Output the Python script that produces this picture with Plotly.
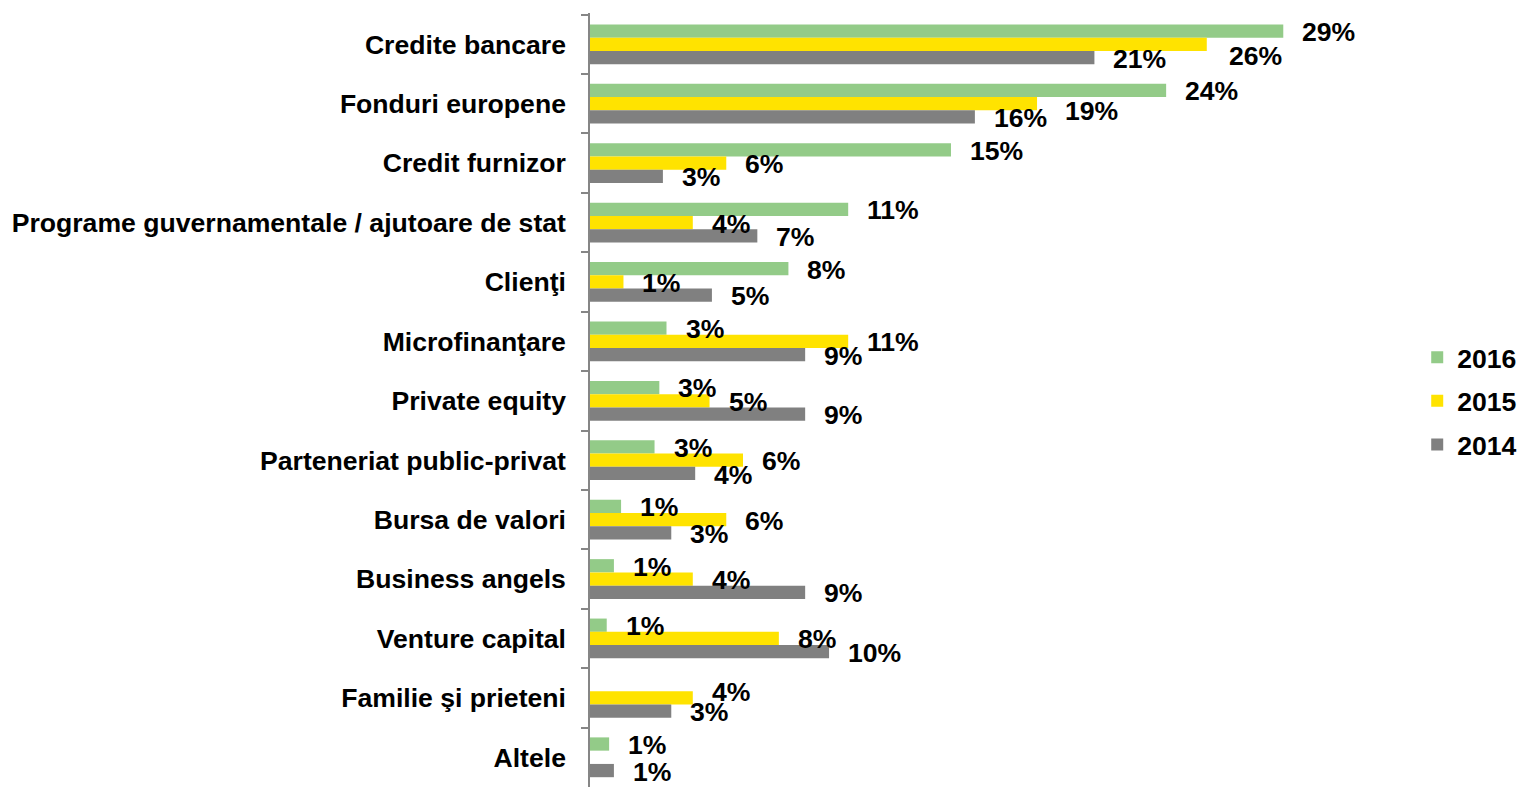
import plotly.graph_objects as go

categories = ["Credite bancare", "Fonduri europene", "Credit furnizor",
              "Programe guvernamentale / ajutoare de stat", "Clienţi", "Microfinanţare",
              "Private equity", "Parteneriat public-privat", "Bursa de valori",
              "Business angels", "Venture capital", "Familie şi prieteni", "Altele"]
series_names = ["2016", "2015", "2014"]
v2016 = [29.0, 24.1, 15.1, 10.8, 8.3, 3.2, 2.9, 2.7, 1.3, 1.0, 0.7, None, 0.8]
v2015 = [25.8, 18.7, 5.7, 4.3, 1.4, 10.8, 5.0, 6.4, 5.7, 4.3, 7.9, 4.3, None]
v2014 = [21.1, 16.1, 3.05, 7.0, 5.1, 9.0, 9.0, 4.4, 3.4, 9.0, 10.0, 3.4, 1.0]
colors = ["#93CB88", "#FFE300", "#808080"]

# label placement nudges (pixels) mimicking the original's collision avoidance
label_nudge = {
    ("2015", "Credite bancare"): (3, -11),
    ("2015", "Fonduri europene"): (9, -6),
    ("2015", "Familie şi prieteni"): (0, 7),
}

FONT = "Liberation Sans, Arial, sans-serif"
FS = 26.6
W, H = 1518, 787
L, T, B = 590, 13, 0
XMAX = 32.0
PX_PER = 23.9
plot_w = XMAX * PX_PER
R = W - L - plot_w
plot_h = H - T - B

fig = go.Figure()
all_vals = [v2016, v2015, v2014]
for name, vals, col in zip(series_names, all_vals, colors):
    fig.add_trace(go.Bar(
        y=categories, x=vals, name=name, orientation="h",
        marker=dict(color=col, line=dict(width=0)),
        legendgroup=name, hoverinfo="x+y+name",
    ))

cat_h = plot_h / len(categories)
bar_h = cat_h * (1 - 0.33) / 3
annotations = []
for i, (name, vals) in enumerate(zip(series_names, all_vals)):
    base_y = (1 - i) * bar_h - 1
    for cat, v in zip(categories, vals):
        if v is None:
            continue
        dx, dy = label_nudge.get((name, cat), (0, 0))
        annotations.append(dict(
            x=v, y=cat, xref="x", yref="y", text=f"{round(v)}%",
            showarrow=False, xanchor="left", yanchor="middle",
            xshift=17 + dx, yshift=base_y + dy,
            font=dict(family=FONT, size=FS, color="#000000", weight=700),
        ))

fig.update_layout(
    width=W, height=H,
    margin=dict(l=L, r=R, t=T, b=B, pad=0, autoexpand=False),
    barmode="group", bargap=0.33, bargroupgap=0,
    plot_bgcolor="white", paper_bgcolor="white",
    font=dict(family=FONT, size=FS, color="#000000", weight=700),
    showlegend=True,
    legend=dict(x=(1417 - L) / plot_w, xanchor="left",
                y=(H - 401 - B) / plot_h, yanchor="middle",
                font=dict(family=FONT, size=FS, color="#000000", weight=700),
                tracegroupgap=6, bgcolor="rgba(0,0,0,0)"),
    annotations=annotations,
)

fig.update_xaxes(range=[0, XMAX], showgrid=False, zeroline=False, showline=False,
                 showticklabels=False, ticks="")
fig.update_yaxes(autorange="reversed", type="category", showgrid=False,
                 showline=True, linecolor="#868686", linewidth=1.5,
                 ticks="outside", tickson="boundaries", ticklen=7, tickcolor="#868686",
                 tickwidth=1.5, ticklabelstandoff=17,
                 tickfont=dict(family=FONT, size=FS, color="#000000", weight=700))

fig.write_html("out.html", config={"displayModeBar": False},
               post_script="document.body.style.margin='0';document.body.style.overflow='hidden';")
